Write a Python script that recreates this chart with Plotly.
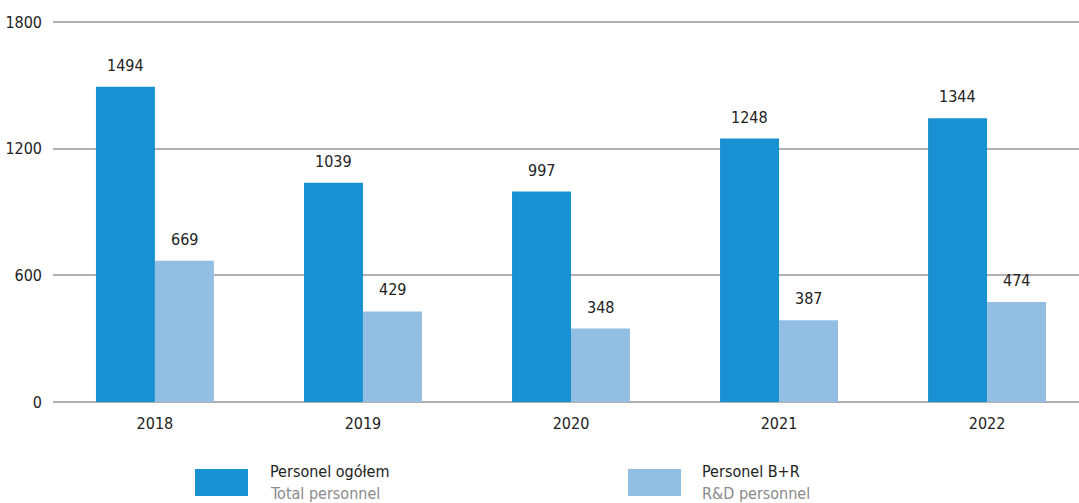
import plotly.graph_objects as go

years = ["2018", "2019", "2020", "2021", "2022"]
total_personnel = [1494, 1039, 997, 1248, 1344]
rd_personnel = [669, 429, 348, 387, 474]
y_ticks = [0, 600, 1200, 1800]

series_names = ["Personel ogółem", "Personel B+R"]
series_names_en = ["Total personnel", "R&D personnel"]
colors = ["#1890d2", "#93bee3"]

FONT = "DejaVu Sans Condensed, Liberation Sans Narrow, Roboto, sans-serif"
FS = 16
W, H = 1079, 503
ML, MR, MT, MB = 53, 0, 21, 101

fig = go.Figure()
for name, vals, col in zip(series_names, [total_personnel, rd_personnel], colors):
    fig.add_trace(go.Bar(x=years, y=vals, name=name, marker=dict(color=col, line=dict(width=0)),
                         showlegend=False, hoverinfo="skip"))

bargap = 0.433
bar_w = (1 - bargap) / 2
annotations = []
for si, vals in enumerate([total_personnel, rd_personnel]):
    off = (-0.5 + si) * bar_w
    for i, v in enumerate(vals):
        annotations.append(dict(x=i + off, y=v, xref="x", yref="y", text=str(v),
                                showarrow=False, yanchor="bottom", yshift=10,
                                font=dict(family=FONT, size=FS, color="#222")))

pw = W - ML - MR
ph = H - MT - MB
def px(x):
    return (x - ML) / pw
def py(y):
    return (H - MB - y) / ph

shapes = []
legend_pos = [(195, 248, 268), (628, 681, 700)]
for (x0, x1, tx), col, n_pl, n_en in zip(legend_pos, colors, series_names, series_names_en):
    shapes.append(dict(type="rect", xref="paper", yref="paper", x0=px(x0), x1=px(x1),
                       y0=py(496), y1=py(469), fillcolor=col, line=dict(width=0)))
    annotations.append(dict(x=px(tx), y=py(471), xref="paper", yref="paper", text=n_pl,
                            showarrow=False, xanchor="left", yanchor="middle",
                            font=dict(family=FONT, size=FS, color="#222")))
    annotations.append(dict(x=px(tx), y=py(493), xref="paper", yref="paper", text=n_en,
                            showarrow=False, xanchor="left", yanchor="middle",
                            font=dict(family=FONT, size=FS, color="#8a8a8a")))

fig.update_layout(
    width=W, height=H,
    margin=dict(l=ML, r=MR, t=MT, b=MB, pad=0),
    paper_bgcolor="white", plot_bgcolor="white",
    barmode="group", bargap=bargap, bargroupgap=0,
    font=dict(family=FONT, size=FS, color="#222"),
    xaxis=dict(type="category", range=[-0.49, 4.442], showgrid=False, showline=False,
               ticks="", ticklabelstandoff=10, tickfont=dict(family=FONT, size=FS, color="#222")),
    yaxis=dict(range=[0, 1805], tickvals=y_ticks, showgrid=True, gridcolor="#b0b0b0", gridwidth=1.5,
               zeroline=True, zerolinecolor="#b0b0b0", zerolinewidth=1.5, showline=False,
               ticks="", ticklabelstandoff=10, tickfont=dict(family=FONT, size=FS, color="#222")),
    shapes=shapes,
    annotations=annotations,
)

fig.write_html("out.html", config={"displayModeBar": False},
               post_script="document.body.style.margin='0';document.body.style.padding='0';")
